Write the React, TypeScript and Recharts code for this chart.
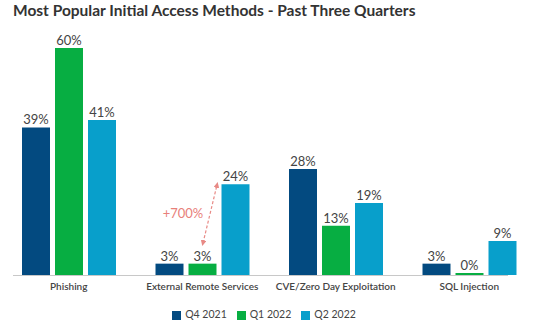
import { BarChart, Bar, XAxis, YAxis, Legend, LabelList } from 'recharts';

const categories = ['Phishing', 'External Remote Services', 'CVE/Zero Day Exploitation', 'SQL Injection'];
const q4_2021 = [39, 3, 28, 3];
const q1_2022 = [60, 3, 13, 0];
const q2_2022 = [41, 24, 19, 9];

const seriesMeta = [
  { key: 's1', name: 'Q4 2021', color: '#034a80' },
  { key: 's2', name: 'Q1 2022', color: '#07ae42' },
  { key: 's3', name: 'Q2 2022', color: '#089fcb' },
];

const data = categories.map((name, i) => ({
  name,
  s1: q4_2021[i],
  s2: q1_2022[i],
  s3: q2_2022[i],
}));

const FONT = 'Lato, "Open Sans", sans-serif';

export default function App() {
  return (
    <div style={{ position: 'absolute', left: 0, top: 0, width: 539, height: 322, fontFamily: FONT, background: '#fff' }}>
      <div
        style={{
          position: 'absolute',
          left: 13,
          top: 0,
          fontSize: 15.5,
          fontWeight: 700,
          color: '#333',
          lineHeight: '20px',
          zIndex: 2,
        }}
      >
        Most Popular Initial Access Methods - Past Three Quarters
      </div>
      <svg
        width={539}
        height={322}
        style={{ position: 'absolute', left: 0, top: 0, pointerEvents: 'none' }}
      >
        <line x1={13} y1={275.5} x2={508} y2={275.5} stroke="#c8c8c8" strokeWidth={1} />
      </svg>
      <div style={{ position: 'absolute', left: 0, top: 0 }}>
        <BarChart
          width={539}
          height={322}
          data={data}
          margin={{ top: 48, right: 3, bottom: 0, left: 2 }}
          barCategoryGap={20}
          barGap={5}
        >
          <YAxis hide domain={[0, 60]} />
          <XAxis
            dataKey="name"
            tickLine={false}
            axisLine={false}
            height={35}
            interval={0}
            tick={{ fontSize: 10, fill: '#444', fontWeight: 600, fontFamily: FONT }}
          />
          <Legend
            iconType="square"
            iconSize={9}
            itemSorter="dataKey"
            wrapperStyle={{ fontSize: 10.5, fontFamily: FONT, color: '#444', bottom: 2 }}
            formatter={(value) => <span style={{ color: '#444' }}>{value}</span>}
          />
          {seriesMeta.map((s) => (
            <Bar
              key={s.key}
              dataKey={s.key}
              name={s.name}
              fill={s.color}
              isAnimationActive={false}
              minPointSize={s.key === 's2' ? 2 : 0}
            >
              <LabelList
                dataKey={s.key}
                position="top"
                offset={3}
                formatter={(v: any) => `${v}%`}
                style={{ fontSize: 13, fill: '#444', fontFamily: FONT }}
              />
            </Bar>
          ))}
        </BarChart>
      </div>
      <svg
        width={539}
        height={322}
        style={{ position: 'absolute', left: 0, top: 0, pointerEvents: 'none' }}
      >
        <defs>
          <marker id="arr" viewBox="0 0 10 10" refX="5" refY="5" markerWidth="5" markerHeight="5" orient="auto-start-reverse">
            <path d="M0,0 L10,5 L0,10 z" fill="#e88a86" />
          </marker>
        </defs>
        <line
          x1={203}
          y1={243}
          x2={217}
          y2={185}
          stroke="#e88a86"
          strokeWidth={1.2}
          strokeDasharray="3 2"
          markerStart="url(#arr)"
          markerEnd="url(#arr)"
        />
        <text x={183} y={218} textAnchor="middle" fontSize={13} fill="#e8807a" fontFamily={FONT}>
          +700%
        </text>
      </svg>
    </div>
  );
}
